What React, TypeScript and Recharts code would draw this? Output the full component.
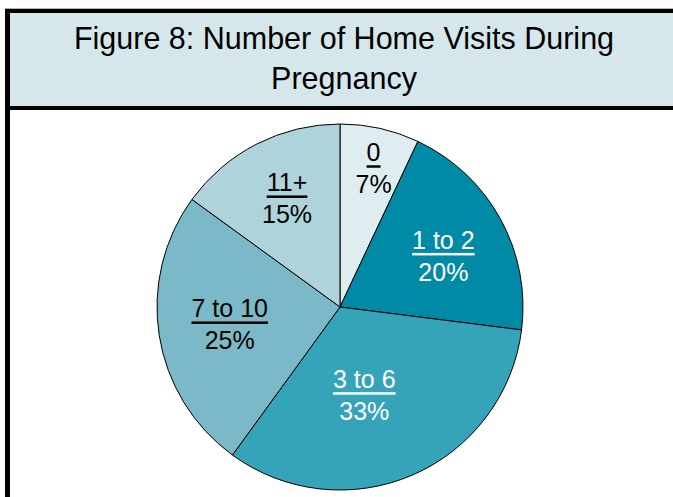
import React from "react";
import { PieChart, Pie, Cell } from "recharts";

const categories = ["0", "1 to 2", "3 to 6", "7 to 10", "11+"];
const percentages = [7, 20, 33, 25, 15];
const sliceColors = ["#deedf0", "#008aa6", "#36a4b8", "#7bb9c8", "#aed3db"];
const labelColors = ["#000000", "#ffffff", "#ffffff", "#000000", "#000000"];
// label placement: radius fraction and angle shift (deg, clockwise)
const labelRadius = [0.78, 0.63, 0.5, 0.61, 0.66];
const labelShift = [1, 2.5, 8, 0, 1];

const data = categories.map((name, i) => ({ name, value: percentages[i] }));

const RAD = Math.PI / 180;
const FONT = "'Liberation Sans', Arial, sans-serif";

const SliceLabel = (props: any) => {
  const { cx, cy, midAngle, outerRadius, index } = props;
  const r = outerRadius * labelRadius[index];
  const a = midAngle - labelShift[index];
  const x = cx + r * Math.cos(-a * RAD);
  const y = cy + r * Math.sin(-a * RAD);
  const fill = labelColors[index];
  return (
    <g>
      <text
        x={x}
        y={y - 16}
        fill={fill}
        textAnchor="middle"
        dominantBaseline="central"
        fontFamily={FONT}
        fontSize={25}
        style={{ textDecoration: "underline" }}
      >
        {data[index].name}
      </text>
      <text
        x={x}
        y={y + 16}
        fill={fill}
        textAnchor="middle"
        dominantBaseline="central"
        fontFamily={FONT}
        fontSize={25}
      >
        {data[index].value}%
      </text>
    </g>
  );
};

const App: React.FC = () => {
  return (
    <div
      style={{
        position: "absolute",
        left: 0,
        top: 0,
        width: 673,
        height: 497,
        background: "#ffffff",
        overflow: "hidden",
      }}
    >
      {/* header */}
      <div style={{ position: "absolute", left: 5, top: 8, right: 0, height: 1, background: "#b0b0b0" }} />
      <div style={{ position: "absolute", left: 5, top: 9, right: 0, height: 4, background: "#000" }} />
      <div
        style={{
          position: "absolute",
          left: 10,
          top: 13,
          right: 0,
          height: 93,
          background: "#d6e7eb",
          fontFamily: FONT,
          fontSize: 30.5,
          color: "#000",
          textAlign: "center",
          lineHeight: "40px",
          paddingTop: 5,
          paddingLeft: 5,
          boxSizing: "border-box",
        }}
      >
        <div>Figure 8: Number of Home Visits During</div>
        <div>Pregnancy</div>
      </div>
      <div style={{ position: "absolute", left: 5, top: 106, right: 0, height: 4, background: "#000" }} />
      <div style={{ position: "absolute", left: 5, top: 9, width: 5, bottom: 0, background: "#000" }} />

      <div style={{ position: "absolute", left: 0, top: 0 }}>
        <PieChart width={673} height={497} margin={{ top: 0, right: 0, bottom: 0, left: 0 }}>
          <Pie
            data={data}
            dataKey="value"
            nameKey="name"
            cx={340}
            cy={307}
            outerRadius={183}
            startAngle={90}
            endAngle={-270}
            stroke="#000000"
            strokeWidth={1}
            label={SliceLabel}
            labelLine={false}
            isAnimationActive={false}
          >
            {data.map((entry, i) => (
              <Cell key={`cell-${i}`} fill={sliceColors[i]} />
            ))}
          </Pie>
        </PieChart>
      </div>
    </div>
  );
};

export default App;
